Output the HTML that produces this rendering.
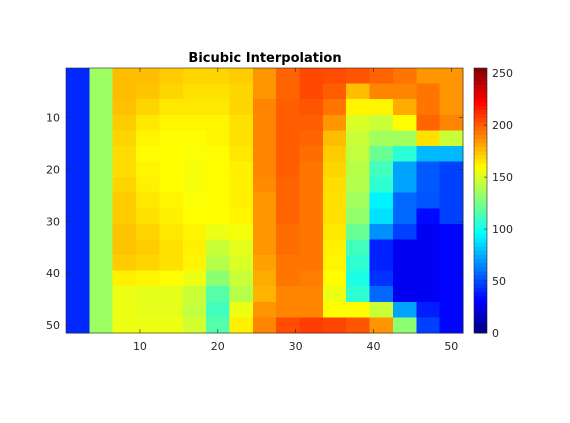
<!DOCTYPE html>
<html><head><meta charset="utf-8"><style>
body{margin:0;background:#fff;}
svg text{font-family:"DejaVu Sans","Liberation Sans",sans-serif;font-size:11px;fill:#262626;}
</style></head><body>
<svg id="chart" width="570" height="418" viewBox="0 0 570 418" xmlns="http://www.w3.org/2000/svg">
<rect width="570" height="418" fill="#fff"/>
<text x="265" y="62" text-anchor="middle" style="font-weight:bold;font-size:13px;fill:#000">Bicubic Interpolation</text>
<g id="cells" shape-rendering="crispEdges"></g>
<g id="cbar" shape-rendering="crispEdges"></g>
<g id="axes"></g>
</svg>
<script>
const cellValues = [
[42,135,176,176,172,170,170,172,186,198,205,204,202,198,194,186,186],
[42,135,176,174,170,167,167,170,186,198,205,200,176,190,190,194,186],
[42,135,175,170,165,165,165,170,190,200,202,194,162,162,180,194,186],
[42,135,172,165,162,162,162,167,190,200,200,186,150,146,160,198,190],
[42,135,170,162,160,160,162,167,190,200,198,176,146,136,136,167,146],
[42,135,168,160,160,158,160,165,190,200,196,172,144,122,106,78,78],
[42,135,168,162,160,157,160,163,190,200,194,170,141,112,73,54,48],
[42,135,170,163,160,157,160,163,188,198,194,168,140,107,73,54,48],
[42,135,172,165,162,158,160,163,186,198,194,167,136,93,58,53,48],
[42,135,172,167,163,160,160,162,186,198,194,167,132,88,58,34,48],
[42,135,174,170,165,162,155,157,186,196,194,165,122,68,48,29,33],
[42,135,174,172,167,163,146,153,186,196,194,163,112,40,29,29,33],
[42,135,172,170,167,162,141,150,183,194,194,162,107,40,29,29,33],
[42,135,163,162,160,155,131,146,180,194,192,160,102,44,29,29,33],
[42,135,155,153,153,146,117,141,178,190,190,155,107,58,29,29,33],
[42,135,155,153,153,144,112,155,186,190,190,160,160,146,73,39,33],
[42,135,155,155,155,148,117,163,190,204,208,206,202,186,131,48,33]
];
const cellSize = 3;
const xTicks = [10,20,30,40,50];
const yTicks = [10,20,30,40,50];
const cbarTicks = [0,50,100,150,200,250];
const cMin = 0, cMax = 255;

const NS="http://www.w3.org/2000/svg";
const L=66,R=463,T=68,B=333;
const xDomain=[0.5,51.5], yDomain=[0.5,51.5];
const xs=v=>L+(v-xDomain[0])/(xDomain[1]-xDomain[0])*(R-L);
const ys=v=>T+(v-yDomain[0])/(yDomain[1]-yDomain[0])*(B-T);
const CL=474,CR=487;
const cs=v=>B-(v-cMin)/(cMax-cMin)*(B-T);
function jet(v){
  const t=Math.max(0,Math.min(1,(v-cMin)/(cMax-cMin)));
  const c=x=>Math.round(255*Math.max(0,Math.min(1,1.5-Math.abs(4*t-x))));
  return `rgb(${c(3)},${c(2)},${c(1)})`;
}
function mk(tag,attrs,parent){const e=document.createElementNS(NS,tag);for(const k in attrs)e.setAttribute(k,attrs[k]);parent.appendChild(e);return e;}
const cells=document.getElementById('cells');
cellValues.forEach((row,i)=>row.forEach((v,j)=>{
  const x0=xs(j*cellSize+0.5),x1=xs((j+1)*cellSize+0.5);
  const y0=ys(i*cellSize+0.5),y1=ys((i+1)*cellSize+0.5);
  const r=mk('rect',{x:x0,y:y0,width:x1-x0+0.5,height:y1-y0+0.5,fill:jet(v)},cells);
  
  
}));
const cb=document.getElementById('cbar');
for(let k=0;k<64;k++){
  const v0=cMin+k*(cMax-cMin)/64,v1=cMin+(k+1)*(cMax-cMin)/64;
  const r=mk('rect',{x:CL,y:cs(v1),width:CR-CL,height:cs(v0)-cs(v1)+0.5,fill:jet((v0+v1)/2)},cb);
  
  
}
const ax=document.getElementById('axes');
mk('rect',{x:L,y:T,width:R-L,height:B-T,fill:'none',stroke:'#262626','stroke-width':0.6},ax);
mk('rect',{x:CL,y:T,width:CR-CL,height:B-T,fill:'none',stroke:'#262626','stroke-width':0.6},ax);
xTicks.forEach(v=>{
  const x=xs(v);
  mk('line',{x1:x,x2:x,y1:B,y2:B-4,stroke:'#262626','stroke-width':0.6},ax);
  mk('line',{x1:x,x2:x,y1:T,y2:T+4,stroke:'#262626','stroke-width':0.6},ax);
  const t=mk('text',{x:x,y:B+17,'text-anchor':'middle'},ax);t.textContent=v;
  
  
});
yTicks.forEach(v=>{
  const y=ys(v);
  mk('line',{x1:L,x2:L+4,y1:y,y2:y,stroke:'#262626','stroke-width':0.6},ax);
  mk('line',{x1:R,x2:R-4,y1:y,y2:y,stroke:'#262626','stroke-width':0.6},ax);
  const t=mk('text',{x:L-6,y:y+4,'text-anchor':'end'},ax);t.textContent=v;
  
  
});
cbarTicks.forEach(v=>{
  const y=cs(v);
  mk('line',{x1:CR,x2:CR-3,y1:y,y2:y,stroke:'#262626','stroke-width':0.6},ax);
  const t=mk('text',{x:CR+5,y:y+4,'text-anchor':'start'},ax);t.textContent=v;
  
  
});
</script>
</body></html>
